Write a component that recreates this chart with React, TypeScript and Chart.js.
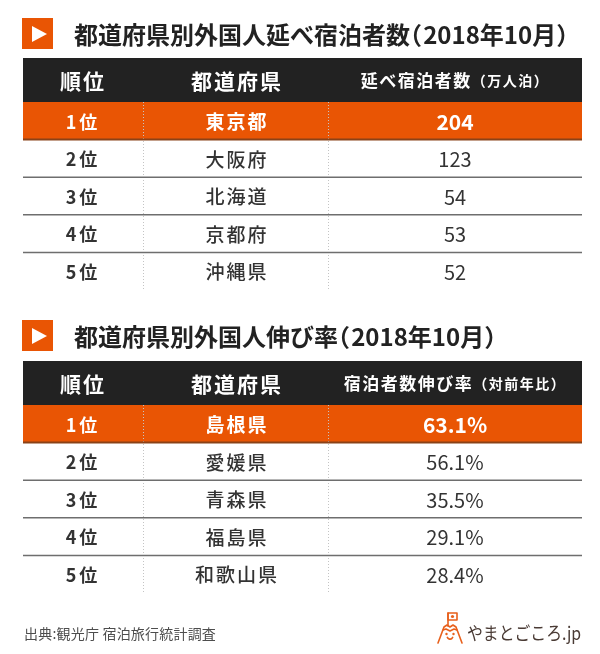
import React, { useEffect, useRef } from "react";
import { Chart, registerables } from "chart.js";

Chart.register(...registerables);

// ---------- data ----------
const title1Main = "都道府県別外国人延べ宿泊者数";
const title2Main = "都道府県別外国人伸び率";
const titlePeriod = "2018年10月";
const headerRank = "順位";
const headerPref = "都道府県";
const header1Main = "延べ宿泊者数";
const header1Sub = "（万人泊）";
const header2Main = "宿泊者数伸び率";
const header2Sub = "（対前年比）";
const ranks = ["1位", "2位", "3位", "4位", "5位"];
const prefs1 = ["東京都", "大阪府", "北海道", "京都府", "沖縄県"];
const stays1 = [204, 123, 54, 53, 52];
const prefs2 = ["島根県", "愛媛県", "青森県", "福島県", "和歌山県"];
const growth2 = [63.1, 56.1, 35.5, 29.1, 28.4];
const sourceText = "出典:観光庁 宿泊旅行統計調査";
const brandText = "やまとごころ.jp";

// ---------- styles ----------
const FONT = '"Noto Sans CJK JP", "Noto Sans", sans-serif';
const ORANGE = "#e95504";
const DARK = "#222222";
const TEXT = "#333333";

function setFont(ctx: CanvasRenderingContext2D, weight: number, size: number, spacing = 0) {
  ctx.font = `${weight} ${size}px ${FONT}`;
  (ctx as any).letterSpacing = `${spacing}px`;
}

function drawTitle(ctx: CanvasRenderingContext2D, top: number, main: string) {
  ctx.fillStyle = ORANGE;
  ctx.fillRect(22, top, 31, 31);
  ctx.fillStyle = "#ffffff";
  ctx.beginPath();
  ctx.moveTo(32, top + 8);
  ctx.lineTo(32, top + 24);
  ctx.lineTo(47, top + 16);
  ctx.closePath();
  ctx.fill();
  const size = 24;
  setFont(ctx, 700, size, 0);
  ctx.fillStyle = DARK;
  ctx.textAlign = "left";
  ctx.textBaseline = "middle";
  const y = top + 17;
  let x = 74;
  ctx.fillText(main, x, y);
  x += ctx.measureText(main).width;
  // proportional-width brackets
  ctx.fillText("（", x - size * 0.5, y);
  x += size * 0.55;
  ctx.fillText(titlePeriod, x, y);
  x += ctx.measureText(titlePeriod).width;
  ctx.fillText("）", x, y);
}

function drawTable(
  ctx: CanvasRenderingContext2D,
  top: number,
  prefs: string[],
  values: string[],
  headMain: string,
  headSub: string
) {
  const x0 = 23;
  const x1 = 582;
  const colA = 143;
  const colB = 328;
  const headH = 44;
  const rowH = 37.6;
  const cx = [82, 236, 455];

  // header
  ctx.fillStyle = DARK;
  ctx.fillRect(x0, top, x1 - x0, headH);
  ctx.fillStyle = "#ffffff";
  ctx.textBaseline = "middle";
  ctx.textAlign = "center";
  setFont(ctx, 700, 21, 2);
  ctx.fillText(headerRank, cx[0] + 1, top + headH / 2 + 1);
  ctx.fillText(headerPref, cx[1] + 1, top + headH / 2 + 1);
  // third header (main + small sub)
  setFont(ctx, 700, 17, 1.5);
  const wMain = ctx.measureText(headMain).width;
  setFont(ctx, 700, 14, 1.5);
  const wSub = ctx.measureText(headSub).width;
  const startX = cx[2] - (wMain + wSub) / 2;
  ctx.textAlign = "left";
  setFont(ctx, 700, 17, 1.5);
  ctx.fillText(headMain, startX, top + headH / 2 + 1);
  setFont(ctx, 700, 14, 1.5);
  ctx.fillText(headSub, startX + wMain, top + headH / 2 + 1);

  const bodyTop = top + headH;
  const bodyBottom = bodyTop + rowH * prefs.length;

  // highlighted first row
  ctx.fillStyle = ORANGE;
  ctx.fillRect(x0, bodyTop, x1 - x0, rowH);

  // vertical dotted dividers
  ctx.save();
  ctx.setLineDash([1, 2]);
  ctx.lineWidth = 1;
  ctx.strokeStyle = "#c4c4c4";
  [colA, colB].forEach((x) => {
    ctx.beginPath();
    ctx.moveTo(x + 0.5, bodyTop);
    ctx.lineTo(x + 0.5, bodyBottom);
    ctx.stroke();
  });
  ctx.restore();

  // horizontal separators
  for (let i = 1; i < prefs.length; i++) {
    const y = bodyTop + rowH * i;
    ctx.beginPath();
    ctx.lineWidth = i === 1 ? 2 : 1.5;
    ctx.strokeStyle = i === 1 ? "#8a4218" : "#6e6e6e";
    ctx.moveTo(x0, y);
    ctx.lineTo(x1, y);
    ctx.stroke();
  }

  // cells
  ctx.textAlign = "center";
  ctx.textBaseline = "middle";
  prefs.forEach((p, i) => {
    const cy = bodyTop + rowH * i + rowH / 2 + 1;
    const hi = i === 0;
    ctx.fillStyle = hi ? "#ffffff" : TEXT;
    setFont(ctx, 700, 18, 3);
    ctx.fillText(ranks[i], cx[0] + 1, cy);
    setFont(ctx, hi ? 700 : 500, 19, 2);
    ctx.fillText(p, cx[1] + 1, cy);
    setFont(ctx, hi ? 700 : 400, hi ? 21 : 20, 0);
    ctx.fillText(values[i], cx[2], cy);
  });
}

function drawLogo(ctx: CanvasRenderingContext2D) {
  const c = "#e8601c";
  ctx.save();
  ctx.strokeStyle = c;
  ctx.lineWidth = 1.6;
  ctx.lineJoin = "round";
  ctx.lineCap = "round";
  // flag
  ctx.strokeRect(448, 613, 9, 7);
  ctx.fillStyle = c;
  ctx.beginPath();
  ctx.arc(452.5, 616.5, 1.6, 0, Math.PI * 2);
  ctx.fill();
  ctx.beginPath();
  ctx.moveTo(448, 613);
  ctx.lineTo(448, 626);
  ctx.stroke();
  // mountain
  ctx.beginPath();
  ctx.moveTo(438, 643);
  ctx.lineTo(444, 627);
  ctx.lineTo(447, 625);
  ctx.lineTo(450, 627);
  ctx.lineTo(453, 625);
  ctx.lineTo(456, 627);
  ctx.lineTo(462, 643);
  ctx.stroke();
  ctx.beginPath();
  ctx.moveTo(443, 630);
  ctx.lineTo(446, 629);
  ctx.lineTo(450, 631);
  ctx.lineTo(454, 629);
  ctx.lineTo(457, 630);
  ctx.stroke();
  // face
  ctx.beginPath();
  ctx.arc(446.5, 634, 1.2, 0, Math.PI * 2);
  ctx.arc(453.5, 634, 1.2, 0, Math.PI * 2);
  ctx.fill();
  ctx.beginPath();
  ctx.arc(450, 636, 3, 0.15 * Math.PI, 0.85 * Math.PI);
  ctx.stroke();
  ctx.restore();

  ctx.save();
  ctx.translate(467, 633);
  ctx.scale(0.88, 1);
  setFont(ctx, 400, 18, 0);
  ctx.fillStyle = "#4a3b35";
  ctx.textAlign = "left";
  ctx.textBaseline = "middle";
  ctx.fillText(brandText, 0, 0);
  ctx.restore();
}

const tablePlugin = {
  id: "rankTables",
  afterDraw(chart: any) {
    const ctx: CanvasRenderingContext2D = chart.ctx;
    ctx.save();
    drawTitle(ctx, 18, title1Main);
    drawTable(
      ctx,
      58,
      prefs1,
      stays1.map((v) => String(v)),
      header1Main,
      header1Sub
    );
    drawTitle(ctx, 320, title2Main);
    drawTable(
      ctx,
      361,
      prefs2,
      growth2.map((v) => `${v.toFixed(1)}%`),
      header2Main,
      header2Sub
    );
    setFont(ctx, 400, 14, 0.2);
    ctx.fillStyle = "#4d4d4d";
    ctx.textAlign = "left";
    ctx.textBaseline = "middle";
    ctx.fillText(sourceText, 24, 634);
    drawLogo(ctx);
    ctx.restore();
  },
};

export default function App() {
  const ref = useRef<HTMLCanvasElement | null>(null);
  useEffect(() => {
    document.body.style.margin = "0";
    const canvas = ref.current;
    if (!canvas) return;
    const chart = new Chart(canvas, {
      type: "bar",
      data: { labels: [], datasets: [] },
      options: {
        responsive: false,
        animation: false,
        devicePixelRatio: 1,
        events: [],
        layout: { padding: 0 },
        scales: { x: { display: false }, y: { display: false } },
        plugins: { legend: { display: false }, tooltip: { enabled: false } },
      },
      plugins: [tablePlugin],
    });
    const fonts = (document as any).fonts;
    if (fonts && fonts.load) {
      Promise.all([
        fonts.load(`700 20px ${FONT}`, "都道府県"),
        fonts.load(`400 20px ${FONT}`, "都道府県"),
      ])
        .then(() => chart.draw())
        .catch(() => {});
    }
    return () => chart.destroy();
  }, []);
  return (
    <div style={{ width: 600, height: 654, background: "#ffffff" }}>
      <canvas ref={ref} width={600} height={654} style={{ display: "block" }} />
    </div>
  );
}
